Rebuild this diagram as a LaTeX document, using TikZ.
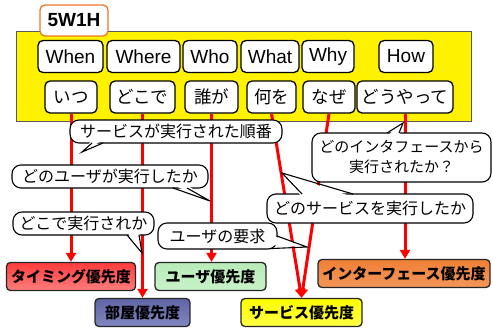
\documentclass[tikz,border=0pt]{standalone}
\usepackage{fontspec}
\setmainfont{Liberation Sans}
\newfontfamily\jp{Noto Sans CJK JP}
\usetikzlibrary{arrows.meta}
\definecolor{taborange}{RGB}{237,118,40}
\definecolor{tmTop}{RGB}{255,60,60}
\definecolor{tmMid}{RGB}{255,236,236}
\definecolor{tmBot}{RGB}{255,125,125}
\definecolor{hyTop}{RGB}{95,100,165}
\definecolor{hyMid}{RGB}{228,230,242}
\definecolor{hyBot}{RGB}{130,135,192}
\definecolor{usTop}{RGB}{185,235,185}
\definecolor{usMid}{RGB}{248,255,248}
\definecolor{usBot}{RGB}{200,242,200}
\definecolor{svTop}{RGB}{255,255,0}
\definecolor{svMid}{RGB}{255,255,215}
\definecolor{svBot}{RGB}{255,255,70}
\definecolor{ifTop}{RGB}{240,128,55}
\definecolor{ifMid}{RGB}{253,228,208}
\definecolor{ifBot}{RGB}{242,150,90}
\begin{document}
\begin{tikzpicture}[x=1pt,y=-1pt,
  en/.style={draw=black, line width=1.3pt, fill=white, rounded corners=5pt, inner sep=0pt,
    font=\fontsize{19}{21}\selectfont, minimum height=32pt},
  jrow/.style={en, font=\jp\fontsize{17.5}{20}\selectfont},
  flow/.style={draw=red, line width=3pt, -{Triangle[width=10pt,length=9pt]}},
  outbox/.style={draw=black!85, line width=1.3pt, rounded corners=4pt, inner sep=0pt,
    minimum height=28pt, font=\jp\bfseries\fontsize{15}{17}\selectfont},
  cbox/.style={draw=black, line width=1.1pt, fill=white, rounded corners=9pt, inner sep=0pt,
    font=\jp\fontsize{16}{20}\selectfont, align=center},
  wedgeline/.style={draw=black, line width=1.1pt, line join=miter},
]
\useasboundingbox (0,0) rectangle (493,327);

% frame
\node[draw=black!65, line width=0.8pt, fill=yellow, minimum width=455pt, minimum height=90pt, inner sep=0pt] (frame) at (243.5,76) {};
\node[draw=taborange, line width=1.3pt, fill=white, rounded corners=5pt, inner sep=0pt,
  minimum width=68pt, minimum height=31pt, font=\bfseries\fontsize{19}{21}\selectfont] (tab) at (74,20.5) {5W1H};

% English row
\node[en, minimum width=65pt] (when) at (70.5,56.5) {When};
\node[en, minimum width=73pt] (where) at (143.5,56.5) {Where};
\node[en, minimum width=54pt] (who) at (210,56.5) {Who};
\node[en, minimum width=58pt] (what) at (270,56.5) {What};
\node[en, minimum width=52pt] (why) at (328,56.5) {Why};
\node[en, minimum width=54pt] (how) at (406,56.5) {How};

% Japanese row
\node[jrow, minimum width=52pt] (itsu) at (71,97) {いつ};
\node[jrow, minimum width=65pt] (dokode) at (142.5,97) {どこで};
\node[jrow, minimum width=53pt] (darega) at (211.5,97) {誰が};
\node[jrow, minimum width=49pt] (naniwo) at (271.5,97) {何を};
\node[jrow, minimum width=52pt] (naze) at (329,97) {なぜ};
\node[jrow, minimum width=96pt] (douyatte) at (405,97) {どうやって};

% output boxes
\node[outbox, minimum width=129pt, top color=tmTop, middle color=tmMid, bottom color=tmBot] (timing) at (71,276.5) {タイミング優先度};
\node[outbox, minimum width=95pt, top color=hyTop, middle color=hyMid, bottom color=hyBot] (heya) at (142.5,312.5) {部屋優先度};
\node[outbox, minimum width=111pt, top color=usTop, middle color=usMid, bottom color=usBot] (user) at (210.5,276.5) {ユーザ優先度};
\node[outbox, minimum width=121pt, top color=svTop, middle color=svMid, bottom color=svBot] (service) at (301.5,312.5) {サービス優先度};
\node[outbox, minimum width=172pt, top color=ifTop, middle color=ifMid, bottom color=ifBot] (iface) at (404,273.5) {インターフェース優先度};

% flows
\draw[flow] (itsu.south) -- (itsu.south |- timing.north);
\draw[flow] (dokode.south) -- (dokode.south |- heya.north);
\draw[flow] (darega.south) -- (darega.south |- user.north);
\draw[flow] (naniwo.south) -- (service.north);
\draw[flow] (naze.south) -- (service.north);
\draw[flow] (douyatte.south) -- (douyatte.south |- iface.north);

% callout 1
\node[cbox, minimum width=212pt, minimum height=23pt] (c1) at (176,131.5) {サービスが実行された順番};
\coordinate (c1a) at (92,143); \coordinate (c1b) at (103,143); \coordinate (c1t) at (82,152);
\fill[white] (92,140) -- (c1t) -- (103,140) -- cycle;
\draw[wedgeline] (c1a) -- (c1t) -- (c1b);

% callout 2
\node[cbox, minimum width=196pt, minimum height=23pt] (c2) at (110,176.5) {どのユーザが実行したか};
\coordinate (c2a) at (173,188); \coordinate (c2b) at (187,188); \coordinate (c2t) at (210,201);
\fill[white] (173,185) -- (c2t) -- (187,185) -- cycle;
\draw[wedgeline] (c2a) -- (c2t) -- (c2b);

% callout 3
\node[cbox, minimum width=141pt, minimum height=23pt] (c3) at (83.5,223.5) {どこで実行されか};
\coordinate (c3a) at (127,235); \coordinate (c3b) at (139,235); \coordinate (c3t) at (142,253);
\fill[white] (127,232) -- (c3t) -- (139,232) -- cycle;
\draw[wedgeline] (c3a) -- (c3t) -- (c3b);

% callout 4
\node[cbox, minimum width=119pt, minimum height=26pt] (c4) at (217.5,236) {ユーザの要求};
\coordinate (c4a) at (277,236); \coordinate (c4b) at (270,248.6); \coordinate (c4t) at (307,247);
\fill[white] (273,236) -- (c4t) -- (268,245) -- cycle;
\draw[wedgeline] (c4a) -- (c4t) -- (c4b);

% callout 5
\node[cbox, minimum width=179pt, minimum height=49pt, font=\jp\fontsize{15}{20}\selectfont] (c5) at (401.5,157.5) {どのインタフェースから\\実行されたか？};
\coordinate (c5a) at (387,133); \coordinate (c5b) at (399,133); \coordinate (c5t) at (403,123);
\fill[white] (387,136) -- (c5t) -- (399,136) -- cycle;
\draw[wedgeline] (c5a) -- (c5t) -- (c5b);

% callout 6
\node[cbox, minimum width=206pt, minimum height=29pt] (c6) at (370,208.5) {どのサービスを実行したか};
\coordinate (c6a) at (302,194); \coordinate (c6b) at (353,194); \coordinate (c6t) at (282,173);
\fill[white] (302,197) -- (c6t) -- (353,197) -- cycle;
\draw[wedgeline] (c6a) -- (c6t) -- (c6b);
\end{tikzpicture}
\end{document}
